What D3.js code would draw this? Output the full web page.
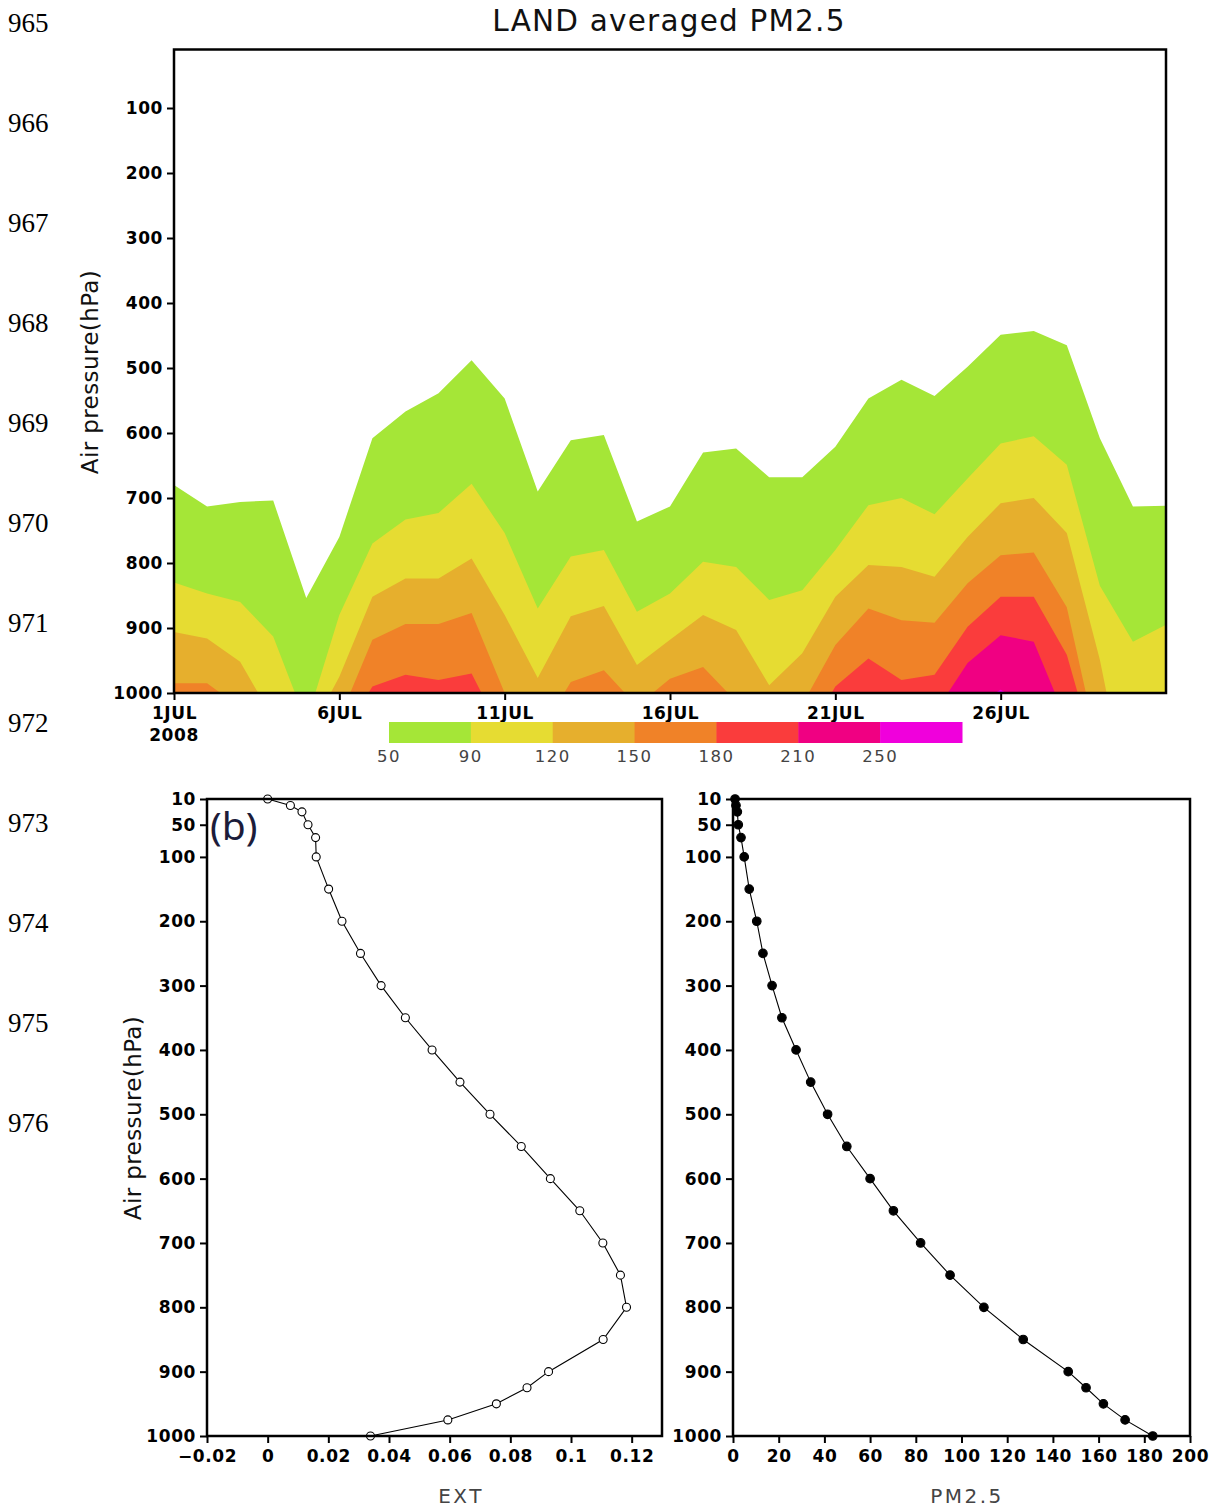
<!DOCTYPE html>
<html><head><meta charset="utf-8">
<script src="https://cdn.jsdelivr.net/npm/d3@7"></script>
<style>body{margin:0;background:#fff}svg{display:block}</style>
</head><body>
<svg id="c" width="1214" height="1510"></svg>
<script>
// ---------- data ----------
const lineNumbers = [965,966,967,968,969,970,971,972,973,974,975,976];
const days = [1,2,3,4,5,6,7,8,9,10,11,12,13,14,15,16,17,18,19,20,21,22,23,24,25,26,27,28,29,30,31];
const dayTicks = [1,6,11,16,21,26];
const dayTickLabels = ["1JUL","6JUL","11JUL","16JUL","21JUL","26JUL"];
const topPressureTicks = [100,200,300,400,500,600,700,800,900,1000];
const levels = [50,90,120,150,180,210,250];
const levelColors = ["#a5e637","#e6dc32","#e6af2d","#f08228","#fa3c3c","#f00082","#f000dc"];
// pressure (hPa) of each PM2.5 contour level per day (values > 1000 lie below ground)
const p50  = [680,713,706,704,854,760,608,567,539,488,547,690,611,603,736,713,630,624,668,668,621,547,518,543,498,449,443,465,608,713,712];
const p90  = [830,847,860,913,1045,880,770,733,723,678,754,870,790,780,875,847,798,806,857,842,780,711,700,725,670,616,605,649,835,921,895];
const p120 = [906,916,952,1040,1070,975,852,824,824,793,880,977,882,866,957,918,880,903,988,939,852,803,806,821,760,708,700,754,949,1200,1200];
const p150 = [985,985,1022,1100,1100,1040,918,894,894,877,1000,1068,983,965,1020,978,960,1013,1100,1018,926,870,888,892,831,788,784,868,1096,1200,1200];
const p180 = [1100,1100,1100,1100,1100,1073,990,972,980,970,1070,1100,1100,1100,1100,1100,1100,1100,1100,1080,990,947,980,972,898,852,852,941,1120,1200,1200];
const p210 = [1100,1100,1100,1100,1100,1100,1100,1100,1100,1100,1100,1100,1100,1100,1100,1100,1100,1100,1100,1100,1100,1100,1100,1031,954,911,921,1044,1200,1200,1200];
const p250 = [1100,1100,1100,1100,1100,1100,1100,1100,1100,1100,1100,1100,1100,1100,1100,1100,1100,1100,1100,1100,1100,1100,1100,1100,1025,995,1025,1100,1200,1200,1200];
const contourBounds = [p50,p90,p120,p150,p180,p210,p250];

const profilePressure = [10,20,30,50,70,100,150,200,250,300,350,400,450,500,550,600,650,700,750,800,850,900,925,950,975,1000];
const extValues  = [0.0,0.0075,0.0113,0.0133,0.0158,0.016,0.0201,0.0245,0.0306,0.0374,0.0454,0.0542,0.0634,0.0733,0.0836,0.0932,0.1029,0.1105,0.1163,0.1183,0.1106,0.0926,0.0855,0.0754,0.0594,0.0339];
const pm25Values = [0.9,1.3,1.9,2.3,3.5,4.9,7.1,10.4,13.1,17.1,21.4,27.6,34.0,41.4,49.8,60.0,70.2,82.1,95.0,109.8,127.0,146.7,154.5,162.1,171.6,183.7];
const extTicks = [-0.02,0,0.02,0.04,0.06,0.08,0.1,0.12];
const pmTicks = [0,20,40,60,80,100,120,140,160,180,200];
const profileYTicks = [10,50,100,200,300,400,500,600,700,800,900,1000];

// ---------- drawing ----------
const svg = d3.select("#c");
const tickFont = "DejaVu Sans";
const tickSize = 17;

// manuscript line numbers
svg.append("g").selectAll("text").data(lineNumbers).join("text")
  .attr("x", 8).attr("y", (d,i) => 31.7 + 100*i)
  .attr("font-family","Liberation Serif").attr("font-size",27).attr("fill","#000")
  .text(d => d);

// ---- top contour chart ----
const tx = d3.scaleLinear().domain([1,31]).range([174,1166]);
const ty = d3.scaleLinear().domain([10,1000]).range([49.5,693]);

svg.append("text").attr("x",669).attr("y",31).attr("text-anchor","middle")
  .attr("font-family",tickFont).attr("font-size",29.5).attr("letter-spacing",1.2).attr("fill","#111")
  .text("LAND averaged PM2.5");

const defs = svg.append("defs");
defs.append("clipPath").attr("id","clipTop").append("rect")
  .attr("x",tx(1)).attr("y",ty(10)).attr("width",tx(31)-tx(1)).attr("height",ty(1000)-ty(10));

const gC = svg.append("g").attr("clip-path","url(#clipTop)");
contourBounds.forEach((arr,k) => {
  const area = d3.area()
    .x((d,i) => tx(days[i]))
    .y0(ty(1000) + 60)
    .y1(d => ty(d));
  gC.append("path").datum(arr).attr("d", area).attr("fill", levelColors[k]);
});

// frame
svg.append("rect").attr("x",tx(1)).attr("y",ty(10)).attr("width",tx(31)-tx(1)).attr("height",ty(1000)-ty(10))
  .attr("fill","none").attr("stroke","#000").attr("stroke-width",2.5);

function styleAxis(g){
  g.select(".domain").remove();
  g.selectAll(".tick line").attr("stroke","#000").attr("stroke-width",2);
  g.selectAll(".tick text").attr("font-family",tickFont).attr("font-weight","bold")
    .attr("font-size",tickSize).attr("letter-spacing",0.6).attr("fill","#000");
}

const yAxTop = svg.append("g").attr("transform",`translate(${tx(1)},0)`)
  .call(d3.axisLeft(ty).tickValues(topPressureTicks).tickSize(7).tickPadding(4).tickFormat(d3.format("d")));
styleAxis(yAxTop);

const xAxTop = svg.append("g").attr("transform",`translate(0,${ty(1000)})`)
  .call(d3.axisBottom(tx).tickValues(dayTicks).tickSize(7).tickPadding(4).tickFormat((d,i)=>dayTickLabels[i]));
styleAxis(xAxTop);
xAxTop.selectAll(".tick text").attr("dy","0.9em");
svg.append("text").attr("x",tx(1)).attr("y",741).attr("text-anchor","middle")
  .attr("font-family",tickFont).attr("font-weight","bold").attr("font-size",tickSize).attr("letter-spacing",0.6)
  .text("2008");

svg.append("text").attr("transform","translate(98,372) rotate(-90)").attr("text-anchor","middle")
  .attr("font-family",tickFont).attr("font-size",23).attr("letter-spacing",0.4).attr("fill","#111")
  .text("Air pressure(hPa)");

// colour bar
const cb = d3.scaleBand().domain(levels).range([389,962]).padding(0);
svg.append("g").selectAll("rect").data(levels).join("rect")
  .attr("x", d => cb(d)).attr("y",722).attr("width", cb.bandwidth()+0.5).attr("height",21)
  .attr("fill", (d,i) => levelColors[i]);
svg.append("g").selectAll("text").data(levels).join("text")
  .attr("x", d => cb(d)).attr("y",762).attr("text-anchor","middle")
  .attr("font-family",tickFont).attr("font-size",16.5).attr("letter-spacing",1.5).attr("fill","#444")
  .text(d => d);

// ---- profile plots ----
function profile(opts){
  const x = d3.scaleLinear().domain(opts.domain).range([opts.x0, opts.x1]);
  const y = d3.scaleLinear().domain([10,1000]).range([799,1436]);
  const g = svg.append("g");
  const line = d3.line().x(d => x(d.v)).y(d => y(d.p));
  const pts = profilePressure.map((p,i) => ({p, v: opts.values[i]}));
  g.append("path").datum(pts).attr("d",line).attr("fill","none").attr("stroke","#000").attr("stroke-width",1.1);
  g.selectAll("circle").data(pts).join("circle")
    .attr("cx", d => x(d.v)).attr("cy", d => y(d.p)).attr("r", opts.filled ? 4.3 : 4)
    .attr("fill", opts.filled ? "#000" : "#fff").attr("stroke","#000").attr("stroke-width",1.1);
  svg.append("rect").attr("x",opts.x0).attr("y",799).attr("width",opts.x1-opts.x0).attr("height",1436-799)
    .attr("fill","none").attr("stroke","#000").attr("stroke-width",2.5);
  const ya = svg.append("g").attr("transform",`translate(${opts.x0},0)`)
    .call(d3.axisLeft(y).tickValues(profileYTicks).tickSize(7).tickPadding(4).tickFormat(d3.format("d")));
  styleAxis(ya);
  const xa = svg.append("g").attr("transform",`translate(0,1436)`)
    .call(d3.axisBottom(x).tickValues(opts.ticks).tickSize(7).tickPadding(4).tickFormat(opts.fmt));
  styleAxis(xa);
  xa.selectAll(".tick text").attr("dy","0.9em");
  svg.append("text").attr("x",opts.labelX).attr("y",1503).attr("text-anchor","middle")
    .attr("font-family",tickFont).attr("font-size",20).attr("letter-spacing",2.5).attr("fill","#444")
    .text(opts.label);
}
profile({domain:[-0.02,0.13], x0:207, x1:662, values:extValues, filled:false, ticks:extTicks,
  fmt: d => d === 0 ? "0" : (d < 0 ? "\u2212" : "") + String(Math.abs(d)), label:"EXT", labelX:461});
profile({domain:[0,200], x0:733, x1:1190, values:pm25Values, filled:true, ticks:pmTicks,
  fmt: d3.format("d"), label:"PM2.5", labelX:967});

svg.append("text").attr("transform","translate(141,1118) rotate(-90)").attr("text-anchor","middle")
  .attr("font-family",tickFont).attr("font-size",23).attr("letter-spacing",0.4).attr("fill","#111")
  .text("Air pressure(hPa)");

svg.append("text").attr("x",210).attr("y",840)
  .attr("font-family","Noto Sans").attr("font-size",39).attr("fill","#1c1c3a")
  .text("(b)");
</script>
</body></html>
